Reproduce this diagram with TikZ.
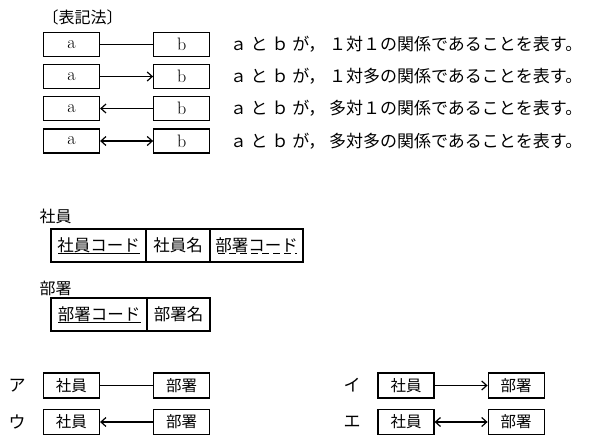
\documentclass[tikz,border=0pt]{standalone}
\usepackage{fontspec}
\newfontfamily\jpfont{Noto Sans CJK JP}
\usepackage{tikz}
\usetikzlibrary{positioning}
\usetikzlibrary{arrows.meta}

\begin{document}
\begin{tikzpicture}[>={Straight Barb[length=5pt,width=9pt]},line width=1.2pt,
	node distance=53pt,
	ebox/.style={draw,minimum width=56pt,minimum height=24pt,inner sep=0pt,font=\fontsize{18}{20}\selectfont},
	kbox/.style={draw,minimum width=56pt,minimum height=25pt,inner sep=0pt,font=\jpfont\fontsize{15.5}{17}\selectfont},
	cell/.style={draw,minimum height=33pt,inner sep=0pt,outer sep=0pt,font=\jpfont\fontsize{16.5}{19}\selectfont},
	jp/.style={font=\jpfont\fontsize{17}{19}\selectfont,inner sep=0pt},
	head/.style={font=\jpfont\fontsize{16}{18}\selectfont,inner sep=0pt,anchor=west}]

	\useasboundingbox (0,0) rectangle (590pt,-447pt);

	\node[head] (notation) at (42pt,-17pt) {〔表記法〕};

	\node[ebox] (a1) at (71.5pt,-44.5pt) {a};
	\node[ebox] (b1) [right=of a1] {b};
	\node[jp] (t1) [right=19pt of b1] {ａ と ｂ が， １対１の関係であることを表す。};
	\node[ebox] (a2) at (71.5pt,-76.5pt) {a};
	\node[ebox] (b2) [right=of a2] {b};
	\node[jp] (t2) [right=19pt of b2] {ａ と ｂ が， １対多の関係であることを表す。};
	\node[ebox] (a3) at (71.5pt,-108.5pt) {a};
	\node[ebox] (b3) [right=of a3] {b};
	\node[jp] (t3) [right=19pt of b3] {ａ と ｂ が， 多対１の関係であることを表す。};
	\node[ebox] (a4) at (71.5pt,-141pt) {a};
	\node[ebox] (b4) [right=of a4] {b};
	\node[jp] (t4) [right=19pt of b4] {ａ と ｂ が， 多対多の関係であることを表す。};

	\draw (a1) -- (b1);
	\draw[->] (a2) -- (b2);
	\draw[<-] (a3) -- (b3);
	\draw[<->] (a4) -- (b4);

	\node[head] (shain) at (39pt,-216pt) {社員};
	\node[cell,minimum width=95pt,anchor=west] (s1) at (51pt,-245.5pt) {社員コード};
	\node[cell,minimum width=64pt] (s2) [right=0pt of s1] {社員名};
	\node[cell,minimum width=93pt] (s3) [right=0pt of s2] {部署コード};
	\draw[line width=0.8pt] ([xshift=7pt,yshift=9pt]s1.south west) -- ([xshift=-6pt,yshift=9pt]s1.south east);
	\draw[line width=0.8pt,dash pattern=on 7pt off 4pt] ([xshift=8pt,yshift=9pt]s3.south west) -- ([xshift=-6pt,yshift=9pt]s3.south east);

	\node[head] (busho) at (39pt,-288pt) {部署};
	\node[cell,minimum width=96pt,anchor=west] (d1) at (51pt,-314.5pt) {部署コード};
	\node[cell,minimum width=63pt] (d2) [right=0pt of d1] {部署名};
	\draw[line width=0.8pt] ([xshift=7pt,yshift=9pt]d1.south west) -- ([xshift=-6pt,yshift=9pt]d1.south east);

	\node[jp,anchor=west] (ka) at (8pt,-385.5pt) {ア};
	\node[kbox] (sa) at (71.5pt,-385.5pt) {社員};
	\node[kbox] (ba) [right=of sa] {部署};
	\node[jp,anchor=west] (ku) at (8pt,-422pt) {ウ};
	\node[kbox] (su) at (71.5pt,-422pt) {社員};
	\node[kbox] (bu) [right=of su] {部署};
	\node[jp,anchor=west] (ki) at (343pt,-385.5pt) {イ};
	\node[kbox] (si) at (406pt,-385.5pt) {社員};
	\node[kbox] (bi) [right=of si] {部署};
	\node[jp,anchor=west] (ke) at (343pt,-422pt) {エ};
	\node[kbox] (se) at (406pt,-422pt) {社員};
	\node[kbox] (be) [right=of se] {部署};

	\draw (sa) -- (ba);
	\draw[->] (si) -- (bi);
	\draw[<-] (su) -- (bu);
	\draw[<->] (se) -- (be);
\end{tikzpicture}
\end{document}
